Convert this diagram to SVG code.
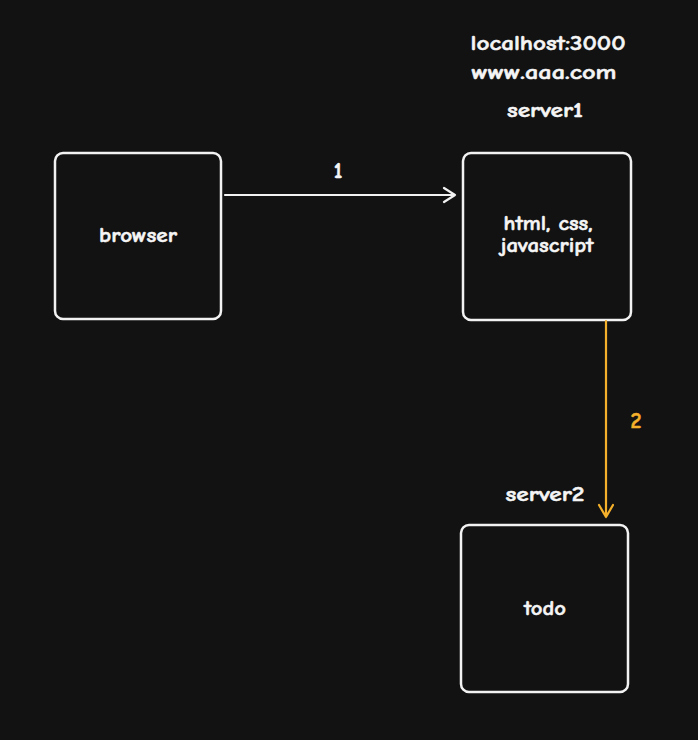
<svg xmlns="http://www.w3.org/2000/svg" width="698" height="740" viewBox="0 0 698 740">
<style>
.box{fill:#121212;stroke:#f2f2f2;stroke-width:2.5}
.t{font-family:"Comic Neue","Noto Sans","Liberation Sans",sans-serif;font-weight:bold;font-size:20px;fill:#f5f5f5;stroke:#f5f5f5;stroke-width:0.5;text-anchor:middle}
.n{font-size:22px}
.o{fill:#f4b02a;stroke:#f4b02a}
.line{fill:none;stroke-width:2.2;stroke-linecap:round;stroke-linejoin:round}
</style>
<rect width="698" height="740" fill="#121212"/>
<g id="labels">
<text class="t" x="548" y="50" textLength="155" lengthAdjust="spacingAndGlyphs">localhost:3000</text>
<text class="t" x="544" y="79" textLength="145" lengthAdjust="spacingAndGlyphs">www.aaa.com</text>
<text class="t" x="545" y="117" textLength="76" lengthAdjust="spacingAndGlyphs">server1</text>
<text class="t" x="545" y="501" textLength="79" lengthAdjust="spacingAndGlyphs">server2</text>
</g>
<g id="browser">
<rect class="box" x="55" y="153" width="166" height="166" rx="8"/>
<text class="t" x="138" y="242" textLength="78" lengthAdjust="spacingAndGlyphs">browser</text>
</g>
<g id="server1">
<rect class="box" x="463" y="153" width="168" height="167" rx="8"/>
<text class="t" x="548" y="230" textLength="89" lengthAdjust="spacingAndGlyphs">html, css,</text>
<text class="t" x="547" y="252" textLength="93" lengthAdjust="spacingAndGlyphs">javascript</text>
</g>
<g id="todo">
<rect class="box" x="461" y="525" width="167" height="167" rx="8"/>
<text class="t" x="545" y="615" textLength="42" lengthAdjust="spacingAndGlyphs">todo</text>
</g>
<g id="connectors">
<path class="line" stroke="#f2f2f2" d="M225 195 H455 M444 188 L455 195 L444 202"/>
<text class="t n" x="338" y="178">1</text>
<path class="line" stroke="#f4b02a" d="M606 321 V517 M599 505 L606 517 L613 505"/>
<text class="t n o" x="636" y="428">2</text>
</g>
</svg>
